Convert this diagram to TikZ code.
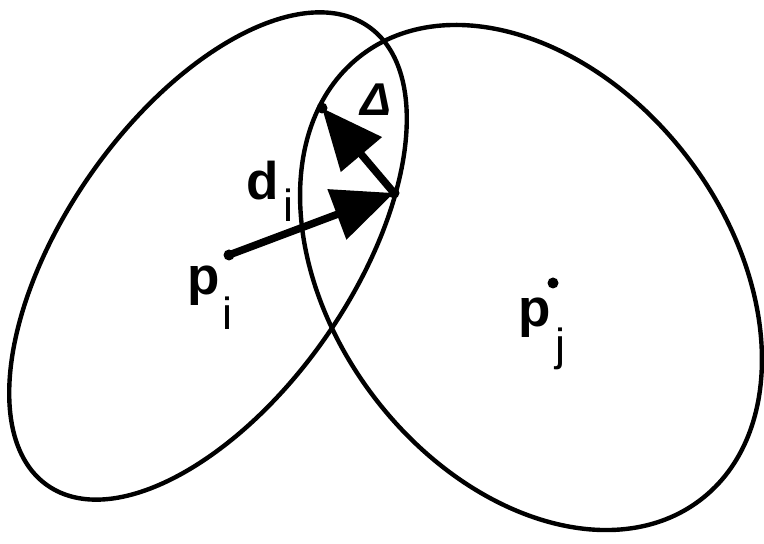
\documentclass[tikz,border=0pt]{standalone}
\usepackage{fontspec}
\setmainfont{Liberation Sans}
\usetikzlibrary{arrows.meta}

\tikzset{
  region/.style={line width=4.4pt},
  vec/.style={line width=7.5pt, -{Triangle[length=61pt,width=52pt]}},
  pt/.style={circle, fill, inner sep=0pt, minimum size=11pt},
  lbl/.style={inner sep=0pt, anchor=base west, font=\fontsize{53}{53}\selectfont\bfseries},
}
\newcommand{\subtxt}[2]{\raisebox{-#1}{\fontsize{45}{45}\selectfont\mdseries #2}}

\begin{document}
\begin{tikzpicture}[x=1pt,y=1pt]
    \useasboundingbox (0,0) rectangle (764,544);
    % the two regions
    \draw[region, rotate around={55:(208,288)}] (208,288) ellipse [x radius=280, y radius=143];
    \draw[region, rotate around={-52.7:(531,266.5)}] (531,266.5) ellipse [x radius=279.6, y radius=197.3];

    % points
    \node[pt] (pi) at (229,289) {};
    \node[pt] (qi) at (394,351) {};
    \node[pt] (qj) at (322,436) {};
    \node[pt] (pj) at (553,261) {};

    % displacement and correction
    \draw[vec] (pi.center) -- (qi.center);
    \draw[vec] (qi.center) -- (qj.center);

    % labels
    \node[lbl] (lpi) at (187,249) {p\kern3pt\subtxt{35pt}{i}};
    \node[lbl] (ldi) at (246,344) {d\kern5pt\subtxt{22pt}{i}};
    \node[lbl] (lpj) at (518,217) {p\kern5pt\subtxt{34pt}{j}};
    \node[inner sep=0pt, font=\fontsize{46}{46}\selectfont\bfseries\itshape] (ldelta) at (376,444) {Δ};
\end{tikzpicture}
\end{document}
